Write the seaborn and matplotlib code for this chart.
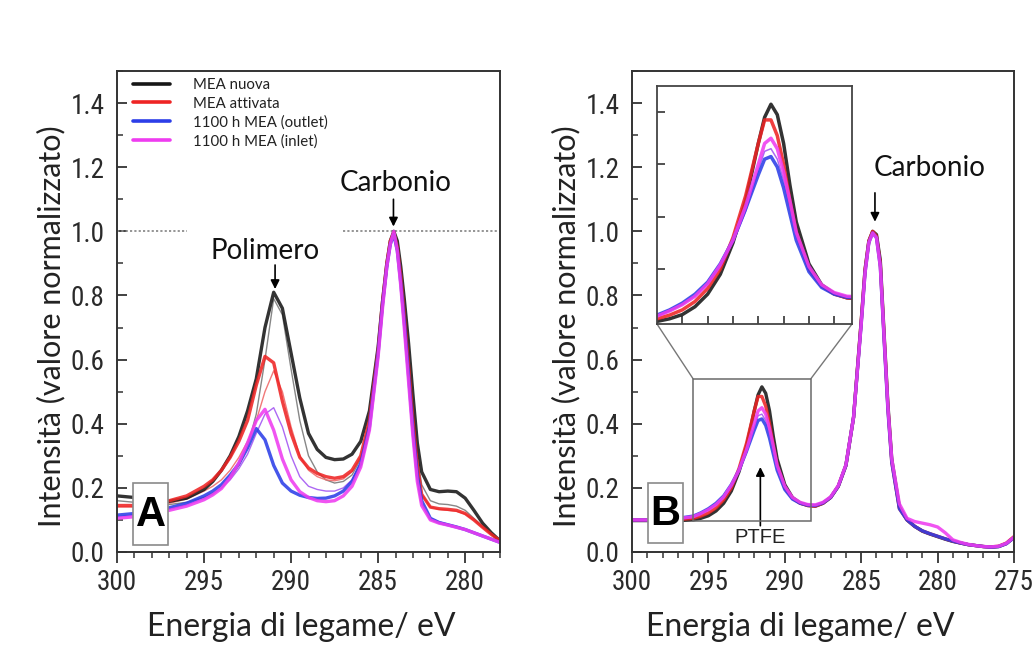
import matplotlib
matplotlib.use("Agg")
import numpy as np
import pandas as pd
import matplotlib.pyplot as plt
import seaborn as sns
from matplotlib import font_manager
from matplotlib.font_manager import FontProperties
from matplotlib.lines import Line2D
from matplotlib.patches import Rectangle, ConnectionPatch
from matplotlib.ticker import MultipleLocator

# ---------------- Panel A: C1s spectra, binding energy (eV) ----------------
energy_a = [300, 299, 298, 297, 296, 295, 294.5, 294, 293.5, 293,
            292.5, 292, 291.5, 291, 290.5, 290, 289.5, 289, 288.5, 288,
            287.5, 287, 286.5, 286, 285.5, 285, 284.75, 284.5, 284.3, 284.1,
            283.9, 283.7, 283.5, 283.25, 283, 282.75, 282.5, 282, 281.5, 281,
            280.5, 280, 279.5, 279, 278.5, 278]

a_nuova = [0.175, 0.17, 0.165, 0.158, 0.168, 0.195, 0.22, 0.255, 0.30, 0.36,
           0.44, 0.54, 0.70, 0.81, 0.76, 0.62, 0.48, 0.37, 0.32, 0.295,
           0.288, 0.29, 0.305, 0.345, 0.44, 0.64, 0.78, 0.90, 0.97, 1.0,
           0.97, 0.89, 0.79, 0.65, 0.49, 0.34, 0.25, 0.195, 0.188, 0.19,
           0.188, 0.168, 0.13, 0.09, 0.06, 0.035]
a_attivata = [0.145, 0.145, 0.15, 0.16, 0.175, 0.205, 0.225, 0.255, 0.295, 0.345,
              0.41, 0.52, 0.61, 0.59, 0.47, 0.37, 0.295, 0.262, 0.245, 0.235,
              0.23, 0.235, 0.255, 0.30, 0.41, 0.63, 0.78, 0.90, 0.97, 0.995,
              0.95, 0.86, 0.74, 0.58, 0.41, 0.27, 0.18, 0.14, 0.135, 0.133,
              0.13, 0.12, 0.10, 0.077, 0.055, 0.035]
a_outlet = [0.115, 0.12, 0.125, 0.138, 0.152, 0.175, 0.19, 0.21, 0.24, 0.275,
            0.325, 0.385, 0.35, 0.27, 0.215, 0.19, 0.177, 0.17, 0.167, 0.168,
            0.175, 0.19, 0.22, 0.275, 0.39, 0.62, 0.77, 0.89, 0.96, 0.99,
            0.94, 0.84, 0.72, 0.55, 0.38, 0.24, 0.16, 0.105, 0.092, 0.085,
            0.078, 0.07, 0.06, 0.05, 0.04, 0.03]
a_inlet = [0.105, 0.11, 0.12, 0.13, 0.143, 0.163, 0.178, 0.198, 0.232, 0.278,
           0.34, 0.41, 0.445, 0.38, 0.29, 0.225, 0.188, 0.17, 0.16, 0.157,
           0.16, 0.175, 0.205, 0.265, 0.38, 0.61, 0.76, 0.89, 0.96, 1.0,
           0.94, 0.83, 0.70, 0.53, 0.36, 0.22, 0.145, 0.10, 0.09, 0.084,
           0.077, 0.07, 0.06, 0.05, 0.04, 0.03]
# repeated acquisitions (thin traces)
a_nuova_rep = [0.16, 0.155, 0.15, 0.148, 0.155, 0.17, 0.183, 0.2, 0.228, 0.27,
               0.33, 0.43, 0.60, 0.79, 0.74, 0.57, 0.41, 0.30, 0.25, 0.225,
               0.215, 0.22, 0.24, 0.29, 0.40, 0.63, 0.78, 0.90, 0.97, 1.0,
               0.96, 0.88, 0.77, 0.62, 0.45, 0.30, 0.21, 0.16, 0.15, 0.148,
               0.143, 0.13, 0.105, 0.08, 0.055, 0.035]
a_attivata_rep = [0.14, 0.14, 0.145, 0.152, 0.165, 0.19, 0.205, 0.225, 0.255, 0.295,
                  0.345, 0.41, 0.50, 0.565, 0.50, 0.39, 0.30, 0.255, 0.235, 0.225,
                  0.222, 0.228, 0.25, 0.295, 0.40, 0.62, 0.77, 0.89, 0.96, 0.99,
                  0.95, 0.86, 0.74, 0.58, 0.41, 0.27, 0.18, 0.14, 0.133, 0.13,
                  0.127, 0.118, 0.10, 0.077, 0.055, 0.035]
a_inlet_rep = [0.11, 0.115, 0.122, 0.133, 0.147, 0.167, 0.18, 0.2, 0.225, 0.26,
               0.305, 0.37, 0.43, 0.45, 0.39, 0.30, 0.235, 0.205, 0.195, 0.19,
               0.19, 0.2, 0.225, 0.28, 0.39, 0.62, 0.77, 0.89, 0.96, 0.995,
               0.94, 0.84, 0.71, 0.54, 0.37, 0.23, 0.15, 0.105, 0.094, 0.087,
               0.08, 0.072, 0.062, 0.051, 0.041, 0.031]

# ---------------- Panel B ----------------
energy_b = [300, 299, 298, 297, 296, 295.5, 295, 294.5, 294, 293.5,
            293, 292.5, 292, 291.75, 291.5, 291.25, 291, 290.75, 290.5, 290,
            289.5, 289, 288.5, 288, 287.5, 287, 286.5, 286, 285.5, 285,
            284.75, 284.5, 284.25, 284, 283.75, 283.5, 283.25, 283, 282.5, 282,
            281.5, 281, 280.5, 280, 279.5, 279, 278.5, 278, 277.5, 277,
            276.5, 276, 275.5, 275]

b_nuova = [0.098, 0.098, 0.098, 0.098, 0.10, 0.105, 0.113, 0.128, 0.152, 0.19,
           0.25, 0.33, 0.44, 0.49, 0.515, 0.495, 0.44, 0.36, 0.29, 0.21,
           0.17, 0.153, 0.145, 0.143, 0.152, 0.17, 0.205, 0.27, 0.42, 0.72,
           0.88, 0.97, 1.0, 0.99, 0.91, 0.68, 0.46, 0.29, 0.14, 0.10,
           0.08, 0.065, 0.056, 0.048, 0.04, 0.033, 0.028, 0.023, 0.02, 0.017,
           0.015, 0.017, 0.026, 0.045]
b_attivata = [0.10, 0.10, 0.10, 0.101, 0.105, 0.112, 0.122, 0.138, 0.163, 0.20,
              0.26, 0.34, 0.44, 0.485, 0.485, 0.455, 0.40, 0.33, 0.27, 0.20,
              0.168, 0.152, 0.145, 0.143, 0.152, 0.17, 0.205, 0.27, 0.42, 0.72,
              0.88, 0.97, 1.0, 0.985, 0.90, 0.67, 0.45, 0.28, 0.135, 0.10,
              0.08, 0.066, 0.057, 0.049, 0.041, 0.034, 0.028, 0.023, 0.02, 0.017,
              0.016, 0.018, 0.028, 0.048]
b_outlet = [0.10, 0.10, 0.102, 0.105, 0.112, 0.122, 0.135, 0.152, 0.175, 0.21,
            0.255, 0.315, 0.38, 0.41, 0.415, 0.395, 0.355, 0.305, 0.255, 0.195,
            0.165, 0.152, 0.146, 0.145, 0.153, 0.17, 0.205, 0.27, 0.42, 0.71,
            0.87, 0.965, 0.995, 0.98, 0.89, 0.66, 0.44, 0.28, 0.135, 0.10,
            0.08, 0.066, 0.057, 0.049, 0.041, 0.034, 0.028, 0.023, 0.02, 0.017,
            0.015, 0.017, 0.026, 0.045]
b_inlet = [0.10, 0.10, 0.101, 0.104, 0.11, 0.12, 0.132, 0.148, 0.172, 0.208,
           0.255, 0.32, 0.40, 0.44, 0.45, 0.43, 0.385, 0.33, 0.27, 0.205,
           0.17, 0.155, 0.148, 0.147, 0.155, 0.172, 0.207, 0.272, 0.42, 0.71,
           0.87, 0.965, 0.995, 0.98, 0.89, 0.67, 0.45, 0.29, 0.15, 0.105,
           0.095, 0.09, 0.085, 0.078, 0.06, 0.038, 0.03, 0.024, 0.02, 0.017,
           0.016, 0.018, 0.027, 0.046]
b_inlet_rep = [0.10, 0.10, 0.101, 0.104, 0.11, 0.12, 0.132, 0.148, 0.172, 0.206,
               0.25, 0.31, 0.39, 0.425, 0.43, 0.41, 0.37, 0.32, 0.265, 0.203,
               0.17, 0.155, 0.148, 0.147, 0.155, 0.172, 0.207, 0.272, 0.42, 0.71,
               0.87, 0.965, 0.995, 0.98, 0.89, 0.67, 0.45, 0.29, 0.14, 0.10,
               0.08, 0.066, 0.057, 0.049, 0.041, 0.034, 0.028, 0.023, 0.02, 0.017,
               0.015, 0.017, 0.026, 0.045]

series_names = ["MEA nuova", "MEA attivata", "1100 h MEA (outlet)", "1100 h MEA (inlet)"]
series_colors = ["#161616", "#ee2424", "#2c3ee8", "#ee3cf0"]
x_ticks_a = [300, 295, 290, 285, 280]
x_ticks_b = [300, 295, 290, 285, 280, 275]
y_ticks = [0.0, 0.2, 0.4, 0.6, 0.8, 1.0, 1.2, 1.4]

palette = dict(zip(series_names, series_colors))


def long_frame(energy, curves):
    parts = [pd.DataFrame({"E": energy, "I": vals, "serie": name})
             for name, vals in curves]
    return pd.concat(parts, ignore_index=True)


df_a = long_frame(energy_a, zip(series_names, [a_nuova, a_attivata, a_outlet, a_inlet]))
df_a_rep = long_frame(energy_a, [("nuova bis", a_nuova_rep),
                                 ("attivata bis", a_attivata_rep),
                                 ("inlet bis", a_inlet_rep)])
df_b = long_frame(energy_b, zip(series_names, [b_nuova, b_attivata, b_outlet, b_inlet]))
df_b_rep = long_frame(energy_b, [("inlet bis", b_inlet_rep)])
rep_palette = {"nuova bis": "#7a7a7a", "attivata bis": "#f06a6a", "inlet bis": "#a458f2"}

# ---------------- style ----------------
sns.set_theme(style="white")
plt.rcParams["font.family"] = ["Lato", "DejaVu Sans"]


def condensed_font_file():
    """Pick a narrow sans face for the tick numbers, if one is installed."""
    entries = font_manager.fontManager.ttflist
    prefs = ["Liberation Sans Narrow", "Arial Narrow", "Roboto Condensed",
             "DejaVu Sans", "Noto Sans", "Open Sans", "Roboto"]
    for strict in (True, False):
        for name in prefs:
            for f in entries:
                fn = f.fname.replace("_", "").replace("-", "")
                narrowish = ("Narrow" in fn or "Condensed" in fn
                             or "condensed" in str(f.stretch))
                if f.name != name or not narrowish:
                    continue
                if f.style != "normal" or f.weight not in (400, "normal", "regular"):
                    continue
                if strict and ("Semi" in fn or "Extra" in fn or "Ultra" in fn):
                    continue
                return f.fname
    return None


cond_file = condensed_font_file()
if cond_file:
    tick_font = FontProperties(fname=cond_file, size=19.5)
else:
    tick_font = FontProperties(family="Liberation Sans", size=18)

W, H = 1036, 656
fig = plt.figure(figsize=(W / 100, H / 100), dpi=100)
fig.patch.set_facecolor("white")
ax_a = fig.add_axes([117 / W, 104 / H, 383 / W, 481 / H])
ax_b = fig.add_axes([632 / W, 104 / H, 382 / W, 481 / H])


def draw_curves(ax, df, df_rep, lw_main=2.4, lw_rep=1.0):
    if df_rep is not None:
        sns.lineplot(data=df_rep, x="E", y="I", hue="serie", palette=rep_palette,
                     estimator=None, sort=False, linewidth=lw_rep, alpha=0.9,
                     legend=False, ax=ax)
    sns.lineplot(data=df, x="E", y="I", hue="serie", palette=palette,
                 hue_order=series_names, estimator=None, sort=False,
                 linewidth=lw_main, alpha=0.88, legend=False, ax=ax)


def style_axis(ax, xlim, xticks):
    ax.set_xlim(*xlim)
    ax.set_ylim(0, 1.5)
    ax.set_xticks(xticks)
    ax.set_yticks(y_ticks)
    ax.xaxis.set_minor_locator(MultipleLocator(1))
    ax.yaxis.set_minor_locator(MultipleLocator(0.1))
    ax.set_xticklabels([f"{t:d}" for t in xticks])
    ax.set_yticklabels([f"{t:.1f}" for t in y_ticks])
    ax.tick_params(axis="x", which="major", direction="out", length=8, width=1.3,
                   color="#333333", pad=4, labelcolor="#2a2a2a")
    ax.tick_params(axis="x", which="minor", direction="out", length=4.5, width=1.1,
                   color="#333333")
    ax.tick_params(axis="y", which="major", direction="in", length=7, width=1.3,
                   color="#333333", pad=9, labelcolor="#2a2a2a")
    ax.tick_params(axis="y", which="minor", direction="in", length=4.5, width=1.1,
                   color="#333333")
    ax.tick_params(bottom=True, left=True, which="both")
    for lab in ax.get_xticklabels() + ax.get_yticklabels():
        lab.set_fontproperties(tick_font)
    for sp in ax.spines.values():
        sp.set_color("#333333")
        sp.set_linewidth(1.4)
    ax.set_xlabel("Energia di legame/ eV", fontsize=23, color="#222222")
    ax.set_ylabel("Intensità (valore normalizzato)", fontsize=22, color="#222222")
    ax.yaxis.set_label_coords(-0.135, 0.47)


def panel_tag(ax, letter, x0, x1, y0, y1):
    ax.add_patch(Rectangle((x0, y0), x1 - x0, y1 - y0, transform=ax.transAxes,
                           facecolor="white", edgecolor="#8a8a8a", lw=1.2, zorder=6))
    ax.text((x0 + x1) / 2, (y0 + y1) / 2 - 0.003, letter, transform=ax.transAxes,
            ha="center", va="center", fontsize=30, fontweight="bold",
            family="Liberation Sans", color="black", zorder=7)


arrow_kw = dict(arrowstyle="-|>", color="black", lw=1.2, mutation_scale=13,
                shrinkA=0, shrinkB=0)

# ---------------- Panel A ----------------
draw_curves(ax_a, df_a, df_a_rep)
style_axis(ax_a, (300, 278), x_ticks_a)
ax_a.xaxis.set_label_coords(0.48, -0.125)
ax_a.hlines(1.0, 300, 296, colors="#8c8c8c", linestyles=(0, (1.2, 1.2)), lw=1.3, zorder=1)
ax_a.hlines(1.0, 287, 278, colors="#8c8c8c", linestyles=(0, (1.2, 1.2)), lw=1.3, zorder=1)
ax_a.text(291.5, 0.94, "Polimero", ha="center", va="center", fontsize=20, color="#111111")
ax_a.annotate("", xy=(290.92, 0.82), xytext=(290.92, 0.895), arrowprops=arrow_kw)
ax_a.text(284.0, 1.15, "Carbonio", ha="center", va="center", fontsize=20, color="#111111")
ax_a.annotate("", xy=(284.12, 1.015), xytext=(284.12, 1.10), arrowprops=arrow_kw)
panel_tag(ax_a, "A", 0.042, 0.133, 0.015, 0.1435)

handles = [Line2D([0], [0], color=c, lw=2.6) for c in series_colors]
leg = ax_a.legend(handles, series_names, loc="upper left", bbox_to_anchor=(0.042, 0.985),
                  frameon=False, fontsize=10.8, handlelength=2.45, handletextpad=1.55,
                  labelspacing=0.3, borderpad=0, borderaxespad=0)
for t in leg.get_texts():
    t.set_color("#222222")

# ---------------- Panel B ----------------
draw_curves(ax_b, df_b, df_b_rep)
style_axis(ax_b, (300, 275), x_ticks_b)
ax_b.xaxis.set_label_coords(0.44, -0.125)
ax_b.text(280.5, 1.196, "Carbonio", ha="center", va="center", fontsize=20, color="#111111")
ax_b.annotate("", xy=(284.1, 1.03), xytext=(284.1, 1.12), arrowprops=arrow_kw)
ax_b.text(291.6, 0.044, "PTFE", ha="center", va="center", fontsize=14.5,
          family="Liberation Sans", color="#222222")
ax_b.annotate("", xy=(291.6, 0.265), xytext=(291.6, 0.082), arrowprops=arrow_kw)
panel_tag(ax_b, "B", 0.042, 0.1335, 0.019, 0.1435)

zoom_x0, zoom_x1, zoom_y0, zoom_y1 = 296.0, 288.3, 0.097, 0.54
ax_b.add_patch(Rectangle((zoom_x1, zoom_y0), zoom_x0 - zoom_x1, zoom_y1 - zoom_y0,
                         fill=False, edgecolor="#6a6a6a", lw=1.1, zorder=3))

ax_in = ax_b.inset_axes([0.0654, 0.474, 0.5105, 0.495])
draw_curves(ax_in, df_b, df_b_rep, lw_main=2.5, lw_rep=1.1)
ax_in.set_xlim(zoom_x0, zoom_x1)
ax_in.set_ylim(0.095, 0.55)
ax_in.set_xticks([295, 294, 293, 292, 291, 290, 289])
ax_in.set_yticks([0.2, 0.3, 0.4, 0.5])
ax_in.tick_params(direction="in", length=6, width=1.2, color="#333333",
                  labelbottom=False, labelleft=False, bottom=True, left=True)
ax_in.set_xlabel("")
ax_in.set_ylabel("")
for sp in ax_in.spines.values():
    sp.set_color("#444444")
    sp.set_linewidth(1.3)

for xa, xb in [(0, zoom_x0), (1, zoom_x1)]:
    con = ConnectionPatch(xyA=(xa, 0), coordsA=ax_in.transAxes,
                          xyB=(xb, zoom_y1), coordsB=ax_b.transData,
                          color="#777777", lw=1.0)
    ax_b.add_artist(con)

fig.savefig("out.png", dpi=100, facecolor="white")
